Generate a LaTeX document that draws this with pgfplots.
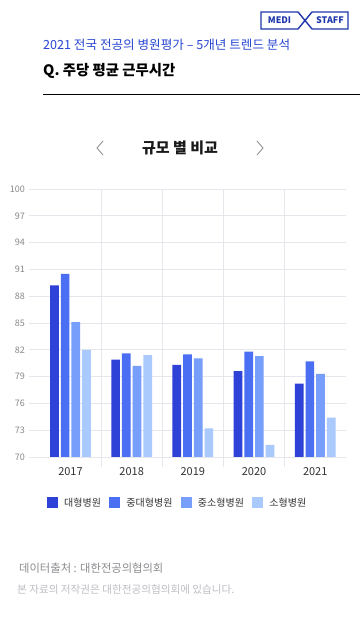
\documentclass[border=0pt]{standalone}
\usepackage{pgfplots}
\pgfplotsset{compat=1.18}
\usepackage{fontspec}
\setmainfont{Noto Sans CJK KR}
\definecolor{c1}{RGB}{46,66,216}
\definecolor{c2}{RGB}{75,111,242}
\definecolor{c3}{RGB}{118,158,250}
\definecolor{c4}{RGB}{170,201,252}
\definecolor{gridc}{RGB}{230,230,236}
\definecolor{tickc}{RGB}{136,136,136}
\definecolor{labc}{RGB}{51,51,51}
\definecolor{headc}{RGB}{40,70,210}
\definecolor{logoc}{RGB}{30,55,170}
\definecolor{foot1}{RGB}{140,140,145}
\definecolor{foot2}{RGB}{190,190,196}
\begin{document}
\begin{tikzpicture}[x=1pt,y=1pt]
\useasboundingbox[fill=white] (0,0) rectangle (360,629);
% logo
\draw[logoc, line width=1.4pt] (298,617) -- (261,617) -- (261,600) -- (298,600) -- (312,617) -- (348,617) -- (348,600) -- (312,600) -- cycle;
\node[logoc, font=\bfseries\fontsize{9}{9}\selectfont] at (279.5,608.5) {MEDI};
\node[logoc, font=\bfseries\fontsize{9}{9}\selectfont] at (330,608.5) {STAFF};
% header
\node[anchor=west, inner sep=0, text=headc, font=\fontsize{12.6}{12.6}\selectfont] at (43,584) {2021 전국 전공의 병원평가 – 5개년 트렌드 분석};
\node[anchor=west, inner sep=0, text=black, font=\bfseries\fontsize{14.4}{14.4}\selectfont] at (43,558) {Q. 주당 평균 근무시간};
\draw[black, line width=0.9pt] (43,535) -- (360,535);
% title
\node[text=black!90, font=\bfseries\fontsize{15}{15}\selectfont] at (180,481) {규모 별 비교};
\draw[tickc, line width=0.8pt] (103,488) -- (97,481) -- (103,474);
\draw[tickc, line width=0.8pt] (257,488) -- (263,481) -- (257,474);
% footer
\node[anchor=west, inner sep=0, text=foot1, font=\fontsize{11.3}{11.3}\selectfont] at (19,61) {데이터출처 : 대한전공의협의회};
\node[anchor=west, inner sep=0, text=foot2, font=\fontsize{10.6}{10.6}\selectfont] at (17,40) {본 자료의 저작권은 대한전공의협의회에 있습니다.};
\begin{axis}[
  at={(29.3pt,172pt)}, anchor=south west,
  scale only axis, width=316.5pt, height=268pt,
  xmin=-0.673, xmax=4.5, ymin=70, ymax=100,
  ytick={70,73,...,100},
  xtick={0,1,2,3,4}, xticklabels={2017,2018,2019,2020,2021},
  axis line style={draw=none}, major tick length=0pt,
  tick style={draw=none},
  ymajorgrids, grid style={color=gridc, line width=0.8pt},
  extra x ticks={0.5,1.5,2.5,3.5}, extra x tick labels={},
  extra x tick style={xmajorgrids=true, tick style={draw=gridc, line width=0.8pt}, major tick length=10pt, tick align=outside, tick pos=bottom},
  ybar=2pt, bar width=8.7pt,
  /pgf/number format/assume math mode=true,
  yticklabel style={font=\fontsize{9}{9}\selectfont, text=tickc, xshift=-1pt},
  xticklabel style={font=\fontsize{11}{11}\selectfont, text=labc, yshift=-7pt},
  legend columns=4,
  legend style={draw=none, fill=none, at={(0.0559,-0.1716)}, anchor=west, inner sep=0pt,
    font=\fontsize{10}{10}\selectfont, text=labc,
    /tikz/every odd column/.append style={column sep=4pt},
    /tikz/every even column/.append style={column sep=6.5pt}},
  legend image code/.code={\fill[#1] (0pt,-5.5pt) rectangle (11pt,5.5pt);},
]
\addplot[fill=c1, draw=none] coordinates {(0,89.2) (1,80.9) (2,80.3) (3,79.6) (4,78.2)};
\addplot[fill=c2, draw=none] coordinates {(0,90.5) (1,81.6) (2,81.5) (3,81.8) (4,80.7)};
\addplot[fill=c3, draw=none] coordinates {(0,85.1) (1,80.2) (2,81.05) (3,81.3) (4,79.3)};
\addplot[fill=c4, draw=none] coordinates {(0,82.0) (1,81.4) (2,73.2) (3,71.35) (4,74.4)};
\legend{대형병원,중대형병원,중소형병원,소형병원}
\end{axis}
\end{tikzpicture}
\end{document}
